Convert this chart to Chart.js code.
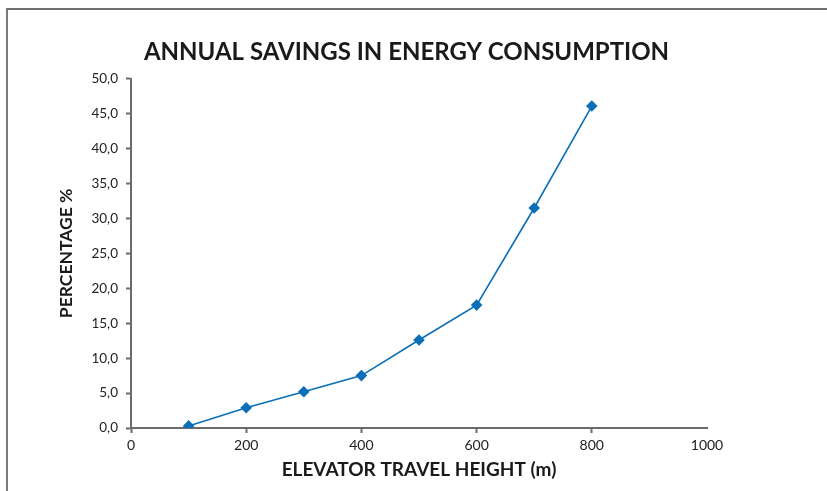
<!DOCTYPE html>
<html>
<head>
<meta charset="utf-8">
<script src="https://cdn.jsdelivr.net/npm/chart.js@4.4.1/dist/chart.umd.min.js"></script>
<style>
    html, body { margin: 0; padding: 0; background: #ffffff; }
    #frame {
        position: absolute;
        left: 6px;
        top: 8px;
        width: 840px;
        height: 500px;
        border-left: 2px solid #7a7a7a;
        border-top: 2px solid #6e6e6e;
    }
    #chart { position: absolute; left: 0; top: 0; }
</style>
</head>
<body>
<div id="frame"></div>
<canvas id="chart" width="827" height="491"></canvas>
<script>
// Elevator travel height (m) and annual saving (%)
const heights = [100, 200, 300, 400, 500, 600, 700, 800];
const savings = [0.3, 2.9, 5.2, 7.5, 12.6, 17.6, 31.5, 46.1];

const xTicks = [0, 200, 400, 600, 800, 1000];
const yTicks = [0, 5, 10, 15, 20, 25, 30, 35, 40, 45, 50];
const yTickLabels = ["0,0", "5,0", "10,0", "15,0", "20,0", "25,0", "30,0", "35,0", "40,0", "45,0", "50,0"];

const lineColor = "#0b6fb8";
const axisColor = "#6b6b6b";
const fontFamily = "Lato, 'Open Sans', sans-serif";

const points = heights.map((h, i) => ({ x: h, y: savings[i] }));

new Chart(document.getElementById("chart"), {
    type: "line",
    data: {
        datasets: [{
            data: points,
            borderColor: lineColor,
            backgroundColor: lineColor,
            borderWidth: 1.6,
            pointStyle: "rectRot",
            pointRadius: 5.8,
            pointBorderWidth: 0,
            tension: 0,
        }],
    },
    options: {
        responsive: false,
        animation: false,
        layout: {
            padding: { left: 0, top: 0, right: 14, bottom: 0 },
        },
        plugins: {
            legend: { display: false },
            tooltip: { enabled: false },
            title: {
                display: true,
                text: "ANNUAL SAVINGS IN ENERGY CONSUMPTION",
                color: "#1a1a1a",
                font: { family: fontFamily, size: 24, weight: "bold" },
                padding: { top: 38, bottom: 12 },
            },
        },
        scales: {
            x: {
                type: "linear",
                min: 0,
                max: 1000,
                afterBuildTicks: (scale) => {
                    scale.ticks = xTicks.map((v) => ({ value: v }));
                },
                afterFit: (scale) => {
                    scale.height = 63;
                },
                border: { display: true, color: axisColor, width: 2 },
                grid: {
                    drawOnChartArea: false,
                    drawTicks: true,
                    tickLength: 5,
                    tickWidth: 2,
                    tickColor: (ctx) => (ctx.tick && ctx.tick.value === 1000 ? "rgba(0,0,0,0)" : axisColor),
                },
                ticks: {
                    color: "#222222",
                    padding: 4,
                    font: { family: fontFamily, size: 14 },
                    callback: (v) => String(v),
                },
                title: {
                    display: true,
                    text: "ELEVATOR TRAVEL HEIGHT (m)",
                    color: "#1a1a1a",
                    font: { family: fontFamily, size: 19, weight: "bold" },
                    padding: { top: 0, bottom: 10 },
                },
            },
            y: {
                min: 0,
                max: 50,
                afterBuildTicks: (scale) => {
                    scale.ticks = yTicks.map((v) => ({ value: v }));
                },
                afterFit: (scale) => {
                    scale.width = 131;
                },
                border: { display: true, color: axisColor, width: 2 },
                grid: {
                    drawOnChartArea: false,
                    drawTicks: true,
                    tickLength: 5,
                    tickWidth: 2,
                    tickColor: axisColor,
                },
                ticks: {
                    color: "#222222",
                    padding: 8,
                    font: { family: fontFamily, size: 13.5 },
                    callback: (v) => yTickLabels[yTicks.indexOf(v)],
                },
                title: {
                    display: true,
                    text: "PERCENTAGE %",
                    color: "#1a1a1a",
                    font: { family: fontFamily, size: 17.5, weight: "bold" },
                    padding: { top: 56, bottom: 0 },
                },
            },
            // empty right-hand axis, only keeps the plot area narrower than the frame
            spacer: {
                type: "linear",
                position: "right",
                display: true,
                afterFit: (scale) => {
                    scale.width = 106;
                },
                border: { display: false },
                grid: { display: false },
                ticks: { display: false },
            },
        },
    },
});
</script>
</body>
</html>
